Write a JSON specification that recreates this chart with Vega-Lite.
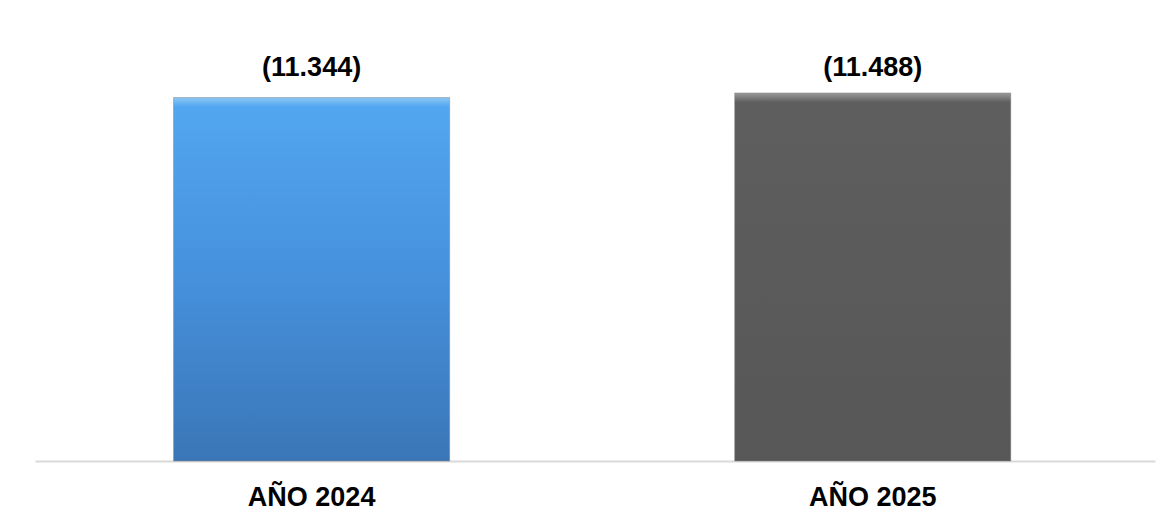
{
  "$schema": "https://vega.github.io/schema/vega-lite/v6.json",
  "autosize": {"type": "none"},
  "padding": {"left": 35, "top": 93, "right": 21, "bottom": 64},
  "width": 1120,
  "height": 368,
  "background": "white",
  "config": {
    "view": {"stroke": null},
    "font": "Liberation Sans",
    "locale": {"number": {"decimal": ",", "thousands": ".", "grouping": [3], "currency": ["$", ""]}}
  },
  "data": {"values": [
    {"year": "AÑO 2024", "value": -11344},
    {"year": "AÑO 2025", "value": -11488}
  ]},
  "encoding": {
    "x": {
      "field": "year", "type": "nominal", "sort": null,
      "scale": {"paddingInner": 0.508, "paddingOuter": 0.252, "align": 0.49},
      "axis": {
        "title": null, "labelAngle": 0, "ticks": false, "grid": false,
        "domainColor": "#d9d9d9", "domainWidth": 2,
        "labelFontSize": 27, "labelFontWeight": "bold", "labelColor": "#000000",
        "labelFont": "Liberation Sans", "labelPadding": 44, "labelBaseline": "alphabetic"
      }
    }
  },
  "layer": [
    {
      "mark": {"type": "bar", "stroke": "#7f7f7f", "strokeWidth": 1, "strokeOpacity": 0.5},
      "encoding": {
        "y": {
          "field": "value", "type": "quantitative",
          "scale": {"domain": [-11488, 0], "reverse": true, "nice": false, "zero": true},
          "axis": null
        },
        "fill": {
          "condition": {
            "test": "datum.year == 'AÑO 2024'",
            "value": {"gradient": "linear", "x1": 0, "y1": 0, "x2": 0, "y2": 1,
              "stops": [
                {"offset": 0, "color": "#8cc8f7"},
                {"offset": 0.025, "color": "#52a6f0"},
                {"offset": 0.5, "color": "#4690dc"},
                {"offset": 1, "color": "#3a76b6"}
              ]}
          },
          "value": {"gradient": "linear", "x1": 0, "y1": 0, "x2": 0, "y2": 1,
            "stops": [
              {"offset": 0, "color": "#9a9a9a"},
              {"offset": 0.025, "color": "#5e5e5e"},
              {"offset": 1, "color": "#575757"}
            ]}
        }
      }
    },
    {
      "transform": [{"joinaggregate": [{"op": "min", "field": "value", "as": "top"}]}],
      "mark": {"type": "text", "baseline": "alphabetic", "align": "center", "dy": -17,
        "fontSize": 27, "fontWeight": "bold", "color": "#000000", "font": "Liberation Sans"},
      "encoding": {
        "y": {"field": "top", "type": "quantitative", "scale": {"domain": [-11488, 0], "reverse": true, "nice": false, "zero": true}, "axis": null},
        "text": {"field": "value", "type": "quantitative", "format": "(,.0f"}
      }
    }
  ]
}
